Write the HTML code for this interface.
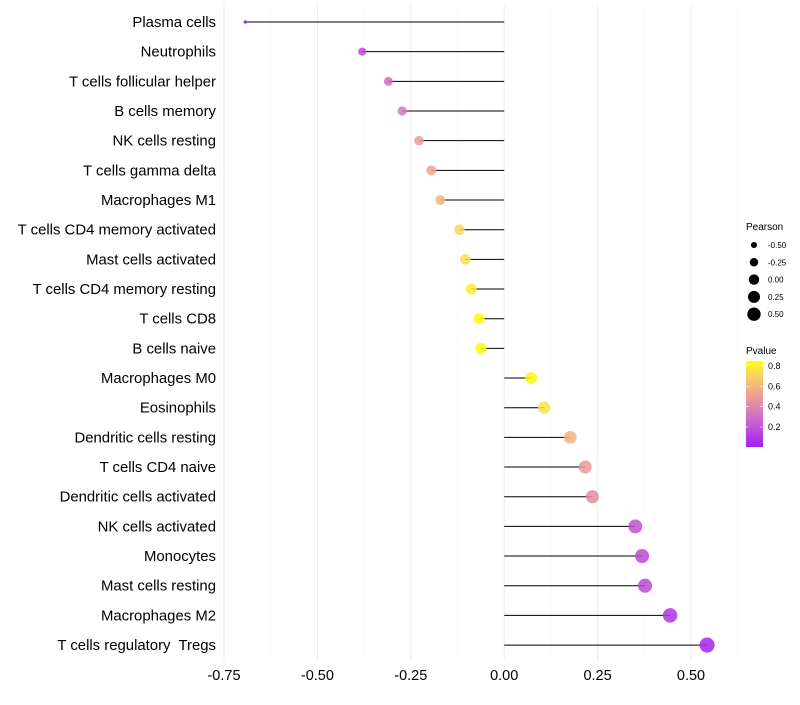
<!DOCTYPE html>
<html><head><meta charset="utf-8"><style>
body{margin:0;background:#fff;font-family:"Liberation Sans",sans-serif}
</style></head><body>
<svg id="chart" width="800" height="700" xmlns="http://www.w3.org/2000/svg" font-family="Liberation Sans, sans-serif">
<defs><linearGradient id="pg" x1="0" y1="1" x2="0" y2="0">
<stop offset="0" stop-color="#A020F0"/><stop offset="0.35" stop-color="#D070C8"/><stop offset="0.6" stop-color="#EEA090"/><stop offset="0.85" stop-color="#F8D860"/><stop offset="1" stop-color="#FFFF00"/></linearGradient></defs>
<g id="grid"></g><g id="marks"></g><g id="labels"></g>
</svg>
<script>
const categories=["Plasma cells","Neutrophils","T cells follicular helper","B cells memory","NK cells resting","T cells gamma delta","Macrophages M1","T cells CD4 memory activated","Mast cells activated","T cells CD4 memory resting","T cells CD8","B cells naive","Macrophages M0","Eosinophils","Dendritic cells resting","T cells CD4 naive","Dendritic cells activated","NK cells activated","Monocytes","Mast cells resting","Macrophages M2","T cells regulatory  Tregs"];
const pearson=[-0.693,-0.38,-0.31,-0.273,-0.228,-0.195,-0.171,-0.12,-0.104,-0.088,-0.067,-0.062,0.072,0.107,0.177,0.217,0.236,0.351,0.369,0.377,0.444,0.543];
const pvalue=[0.01,0.15,0.27,0.32,0.45,0.5,0.58,0.72,0.74,0.8,0.83,0.84,0.82,0.75,0.56,0.45,0.4,0.18,0.15,0.15,0.08,0.02];
const xTicks=[-0.75,-0.5,-0.25,0,0.25,0.5];
const xTickLabels=["-0.75","-0.50","-0.25","0.00","0.25","0.50"];
const legendSizes=[-0.5,-0.25,0,0.25,0.5];
const legendSizeLabels=["-0.50","-0.25","0.00","0.25","0.50"];
const legendP=[0.8,0.6,0.4,0.2];

const NS="http://www.w3.org/2000/svg";
const xS=v=>504.2+v*373.6;
const yS=i=>22+i*29.67;
const pMin=Math.min(...pearson),pMax=Math.max(...pearson);
const rS=v=>{const t=(v-pMin)/(pMax-pMin);return Math.sqrt(3+t*(57-3));};
const stops=[[0,[160,32,240]],[0.2,[196,86,204]],[0.35,[222,130,170]],[0.5,[238,166,140]],[0.72,[248,216,96]],[0.85,[255,255,0]]];
function col(p){p=Math.max(0,Math.min(0.85,p));for(let i=1;i<stops.length;i++){if(p<=stops[i][0]){const a=stops[i-1],b=stops[i];const t=(p-a[0])/(b[0]-a[0]);const c=a[1].map((x,k)=>Math.round(x+(b[1][k]-x)*t));return `rgb(${c})`;}}return "rgb(255,255,0)";}
function mk(tag,attrs,parent,text){const e=document.createElementNS(NS,tag);for(const k in attrs)e.setAttribute(k,attrs[k]);if(text!==undefined)e.textContent=text;parent.appendChild(e);return e;}
const grid=document.getElementById('grid'),marks=document.getElementById('marks'),labels=document.getElementById('labels'),svg=document.getElementById('chart');
for(let v=-0.75;v<=0.626;v+=0.125){
 const major=Math.abs(v/0.25-Math.round(v/0.25))<1e-6;
 const l=mk('line',{x1:xS(v),x2:xS(v),y1:5,y2:660,stroke:major?'#ebebeb':'#f5f5f5','stroke-width':major?1:0.6},grid);
 
 
}
xTicks.forEach((v,i)=>{
 const t=mk('text',{x:xS(v),y:680,'font-size':14.5,'text-anchor':'middle',fill:'#000'},labels,xTickLabels[i]);
 
 
});
categories.forEach((c,i)=>{
 const t=mk('text',{x:216,y:yS(i)+5,'font-size':14.9,'text-anchor':'end',fill:'#000',style:'white-space:pre'},labels,c);
 
 
 const l=mk('line',{x1:xS(0),x2:xS(pearson[i]),y1:yS(i),y2:yS(i),stroke:'#000','stroke-width':1},marks);
 
 
 const p=mk('circle',{cx:xS(pearson[i]),cy:yS(i),r:rS(pearson[i]),fill:col(pvalue[i]),'fill-opacity':0.85},marks);
 
 
});
const lg=mk('g',{},svg);


mk('text',{x:746,y:230,'font-size':10},lg,'Pearson');
legendSizes.forEach((v,i)=>{
 const y=245+i*17.3;
 const c=mk('circle',{cx:754,cy:y,r:rS(v)*0.9,fill:'#000'},lg);
 
 
 mk('text',{x:768,y:y+3,'font-size':8},lg,legendSizeLabels[i]);
});
const pg=mk('g',{},svg);


mk('text',{x:746,y:354,'font-size':10},pg,'Pvalue');
mk('rect',{x:746,y:361,width:17,height:86,fill:'url(#pg)'},pg);
const pY=p=>427-(p-0.2)*101.7;
legendP.forEach(p=>{
 mk('line',{x1:746,x2:749,y1:pY(p),y2:pY(p),stroke:'#fff','stroke-width':0.6},pg);
 mk('line',{x1:760,x2:763,y1:pY(p),y2:pY(p),stroke:'#fff','stroke-width':0.6},pg);
 mk('text',{x:768,y:pY(p)+3,'font-size':9},pg,p.toFixed(1));
});
</script>
</body></html>
